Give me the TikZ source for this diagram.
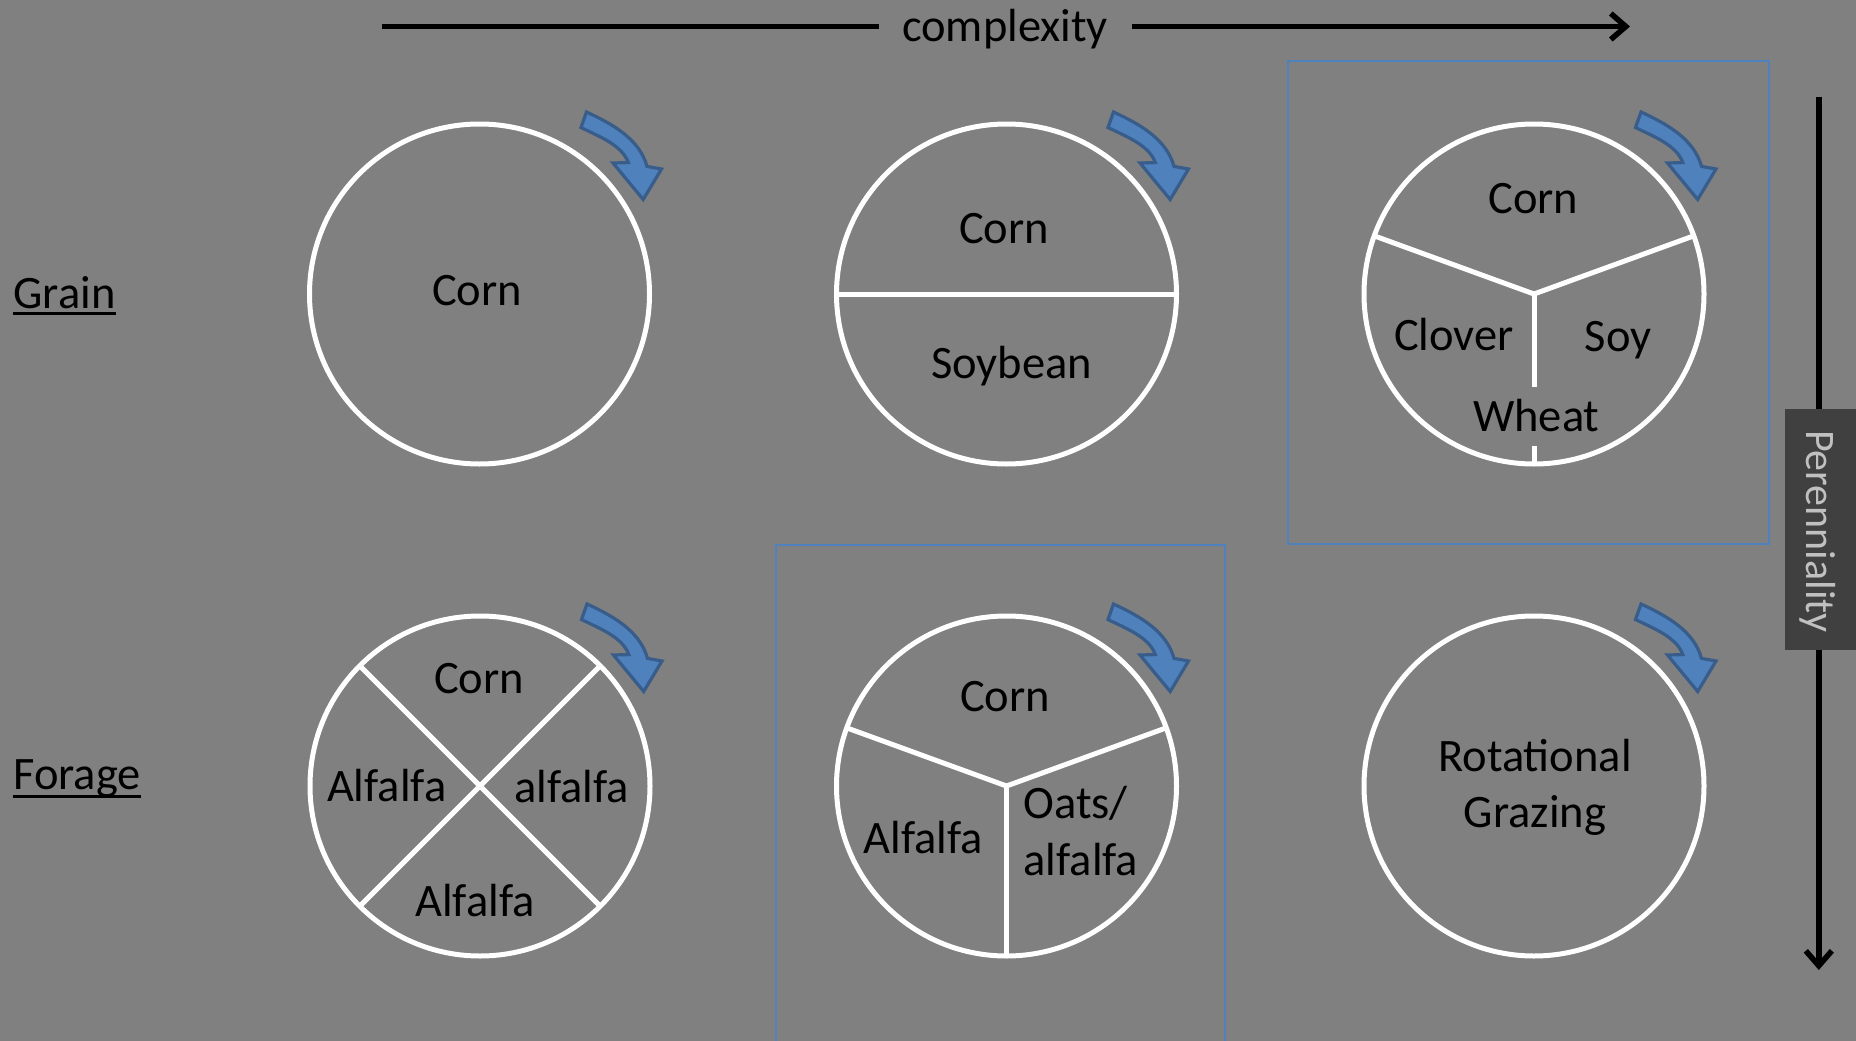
\documentclass[tikz,border=0pt]{standalone}
\usepackage{fontspec}
\setmainfont{Carlito}
\usetikzlibrary{arrows.meta}

\definecolor{bggray}{HTML}{808080}
\definecolor{rotfill}{HTML}{4F81BD}
\definecolor{rotline}{HTML}{385D8A}
\definecolor{framebl}{HTML}{4F81BD}
\definecolor{tabdark}{HTML}{404040}
\definecolor{tabtext}{HTML}{C0C0C0}

\tikzset{
  field/.style={circle, draw=white, line width=5pt, minimum size=340pt,
    inner sep=0pt, outer sep=0pt},
  divider/.style={draw=white, line width=5pt},
  crop/.style={font=\fontsize{46.5}{56}\selectfont, text=black,
    inner sep=0pt, anchor=base},
  rowlabel/.style={crop, anchor=base west},
  axisline/.style={draw=black, line width=5.5pt},
  axis/.style={axisline, -{Straight Barb[length=15pt,width=26pt]}},
  focus/.style={draw=framebl, line width=2pt},
  pics/rotarrow/.style={code={
    \filldraw[fill=rotfill, draw=rotline, line width=3.2pt]
      (107,-182) .. controls (133,-170) and (160,-155) .. (167.5,-127.6)
      -- (182,-125) -- (163.7,-94.5) -- (133.5,-131) -- (148.8,-131.4)
      .. controls (142.5,-149) and (119.5,-157.5) .. (101.5,-166.5) -- cycle;
  }}
}

\begin{document}
\begin{tikzpicture}[x=1pt, y=-1pt]
  % page and background
  \useasboundingbox (0,0) rectangle (1856,1041);
  \fill[bggray] (0,0) rectangle (1856,1041);

  % highlighted systems
  \draw[focus] (1288.3,60.7) rectangle (1769.3,544.3);
  \draw[focus] (776,1046) -- (776,545) -- (1225,545) -- (1225,1046);

  % rotation circles
  \node[field] (c1) at (479.5,294) {};
  \node[field] (c2) at (1006.5,294) {};
  \node[field] (c3) at (1534,294) {};
  \node[field] (c4) at (480,786) {};
  \node[field] (c5) at (1006.5,786) {};
  \node[field] (c6) at (1534,786) {};

  % sector dividers
  \draw[divider] (c2.west) -- (c2.east);
  \draw[divider] (c3.center) -- (c3.160);
  \draw[divider] (c3.center) -- (c3.20);
  \draw[divider] (c3.center) -- ++(0,93);
  \draw[divider] (c3.south) -- ++(0,-18);
  \draw[divider] (c4.45) -- (c4.225);
  \draw[divider] (c4.135) -- (c4.315);
  \draw[divider] (c5.center) -- (c5.160);
  \draw[divider] (c5.center) -- (c5.20);
  \draw[divider] (c5.center) -- (c5.south);

  % crop names
  \node[crop] (c1corn) at (477,305) {Corn};
  \node[crop] (c2corn) at (1004,243.3) {Corn};
  \node[crop] (c2soy) at (1011.7,378.3) {Soybean};
  \node[crop] (c3corn) at (1533.3,213.3) {Corn};
  \node[crop] (c3clover) at (1454,350) {Clover};
  \node[crop] (c3soy) at (1618.3,351.7) {Soy};
  \node[crop] (c3wheat) at (1536.3,431) {Wheat};
  \node[crop] (c4corn) at (479,693.3) {Corn};
  \node[crop] (c4alfa) at (386.7,801.7) {Alfalfa};
  \node[crop] (c4alfb) at (571.7,802.3) {alfalfa};
  \node[crop] (c4alfc) at (475,916.7) {Alfalfa};
  \node[crop] (c5corn) at (1005,711.7) {Corn};
  \node[crop] (c5alf) at (923.3,853.3) {Alfalfa};
  \node[crop, anchor=base west] (c5oats) at (1023.3,818.3) {Oats/};
  \node[crop, anchor=base west] (c5oalf) at (1023.3,875) {alfalfa};
  \node[crop] (c6rot) at (1535,771) {Rotational};
  \node[crop] (c6graz) at (1535,827.7) {Grazing};

  % rotation direction arrows
  \pic at (c1) {rotarrow};
  \pic at (c2) {rotarrow};
  \pic at (c3) {rotarrow};
  \pic at (c4) {rotarrow};
  \pic at (c5) {rotarrow};
  \pic at (c6) {rotarrow};

  % row labels
  \node[rowlabel] (grain) at (13.3,308.5) {Grain};
  \draw[line width=3pt] ([yshift=-5pt]grain.base west) -- ([yshift=-5pt]grain.base east);
  \node[rowlabel] (forage) at (13.3,789.5) {Forage};
  \draw[line width=3pt] ([yshift=-7pt]forage.base west) -- ([yshift=-7pt]forage.base east);

  % complexity axis
  \node[crop] (cplx) at (1005,42) {complexity};
  \coordinate (axL) at (382,26.5);
  \coordinate (axR) at (1630,26.5);
  \path (cplx.west |- axL) ++(-23,0) coordinate (axM1);
  \path (cplx.east |- axL) ++(24,0) coordinate (axM2);
  \draw[axisline] (axL) -- (axM1);
  \draw[axis] (axM2) -- (axR);

  % perenniality axis
  \coordinate (vtop) at (1818.8,96.7);
  \coordinate (vbot) at (1818.8,970);
  \draw[axis] (vtop) -- (vbot);
  \fill[tabdark] (1784.7,409.3) rectangle (1856,650);
  \node[rotate=-90, font=\fontsize{42}{50}\selectfont, text=tabtext,
    inner sep=0pt, anchor=base] (peren) at (1806,531.5) {Perenniality};
\end{tikzpicture}
\end{document}
